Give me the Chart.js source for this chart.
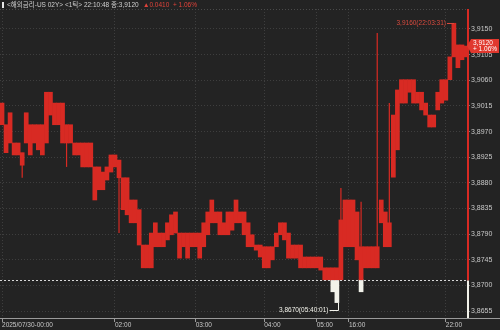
<!DOCTYPE html>
<html>
<head>
<meta charset="utf-8">
<script src="https://cdn.jsdelivr.net/npm/chart.js@4.4.1/dist/chart.umd.min.js"></script>
<style>
  html, body { margin: 0; padding: 0; background: #232323; }
  canvas { display: block; }
</style>
</head>
<body>
<canvas id="myChart" width="500" height="330"></canvas>
<script>
// tick data, one column per few ticks: high / low of the body
const prevClose = 3.8710;
const lastPrice = 3.9120;
const changeText = '▲0.0410  + 1.06%';
const highs = [
  3.9020, 3.8982, 3.9003, 3.8950, 3.8950, 3.8933, 3.9003, 3.8982, 3.8982, 3.8982,
  3.8982, 3.9039, 3.9039, 3.9020, 3.9020, 3.9020, 3.8982, 3.8982, 3.8950, 3.8950,
  3.8950, 3.8950, 3.8950, 3.8908, 3.8908, 3.8899, 3.8908, 3.8929, 3.8929, 3.8920,
  3.8889, 3.8889, 3.8850, 3.8850, 3.8833, 3.8771, 3.8771, 3.8792, 3.8810, 3.8792,
  3.8792, 3.8810, 3.8824, 3.8829, 3.8792, 3.8792, 3.8792, 3.8792, 3.8792, 3.8792,
  3.8810, 3.8829, 3.8850, 3.8829, 3.8829, 3.8810, 3.8829, 3.8829, 3.8850, 3.8829,
  3.8829, 3.8810, 3.8789, 3.8771, 3.8771, 3.8768, 3.8768, 3.8768, 3.8792, 3.8810,
  3.8810, 3.8792, 3.8771, 3.8771, 3.8771, 3.8750, 3.8750, 3.8750, 3.8750, 3.8750,
  3.8731, 3.8731, 3.8731, 3.8731, 3.8815, 3.8850, 3.8850, 3.8850, 3.8829, 3.8768,
  3.8768, 3.8768, 3.8768, 3.8768, 3.8850, 3.8829, 3.8810, 3.8999, 3.9043, 3.9061,
  3.9061, 3.9061, 3.9061, 3.9039, 3.9039, 3.9020, 3.8999, 3.8999, 3.9039, 3.9061,
  3.9061, 3.9101, 3.9160, 3.9122, 3.9122, 3.9120
];
const lows = [
  3.8982, 3.8933, 3.8950, 3.8929, 3.8929, 3.8911, 3.8950, 3.8929, 3.8950, 3.8938,
  3.8929, 3.8950, 3.8999, 3.8982, 3.8982, 3.8950, 3.8950, 3.8950, 3.8929, 3.8929,
  3.8908, 3.8908, 3.8908, 3.8850, 3.8868, 3.8868, 3.8885, 3.8899, 3.8908, 3.8889,
  3.8833, 3.8824, 3.8810, 3.8810, 3.8771, 3.8731, 3.8731, 3.8731, 3.8768, 3.8768,
  3.8768, 3.8780, 3.8789, 3.8792, 3.8748, 3.8768, 3.8748, 3.8768, 3.8768, 3.8748,
  3.8768, 3.8789, 3.8810, 3.8810, 3.8789, 3.8789, 3.8789, 3.8797, 3.8810, 3.8810,
  3.8789, 3.8768, 3.8768, 3.8762, 3.8750, 3.8731, 3.8731, 3.8745, 3.8768, 3.8789,
  3.8780, 3.8748, 3.8748, 3.8748, 3.8731, 3.8731, 3.8731, 3.8731, 3.8731, 3.8727,
  3.8710, 3.8710, 3.8689, 3.8670, 3.8710, 3.8768, 3.8768, 3.8768, 3.8745, 3.8689,
  3.8731, 3.8731, 3.8731, 3.8731, 3.8810, 3.8768, 3.8768, 3.8890, 3.8938, 3.9020,
  3.9020, 3.9039, 3.9020, 3.9020, 3.9008, 3.8999, 3.8978, 3.8978, 3.9008, 3.9020,
  3.9025, 3.9061, 3.9101, 3.9082, 3.9096, 3.9101
];
// thin single-tick spikes
const wickIdx = [5, 16, 29, 84, 89, 93, 96];
const wickLow = [3.8889, 3.8908, 3.8792, 3.8810, 3.8768, 3.8731, 3.8768];
const wickHigh = [3.8933, 3.8982, 3.8920, 3.8871, 3.8847, 3.9143, 3.9020];

const yTicks = [3.8655, 3.8700, 3.8745, 3.8790, 3.8835, 3.8880, 3.8925, 3.8970, 3.9015, 3.9060, 3.9105, 3.9150];
const tickIdx = [0, 28, 48, 65, 78, 86, 110];
const tickText = ['2025/07/30-00:00', '02:00', '03:00', '04:00', '05:00', '16:00', '22:00'];
const maxIdx = 112, maxTime = '22:03:31';
const minIdx = 83, minTime = '05:40:01';

const RED = '#d82a23';
const WHITE = '#f2f2ea';
const fmt = (v) => v.toFixed(4).replace('.', ',');
const FONT = "6.5px 'Liberation Sans', 'Noto Sans CJK KR', sans-serif";

const redBars = highs.map((h, i) => h > prevClose ? [Math.max(lows[i], prevClose), h] : null);
const whiteBars = lows.map((l, i) => l < prevClose ? [l, Math.min(highs[i], prevClose)] : null);
const wickBars = highs.map((_, i) => {
  const k = wickIdx.indexOf(i);
  return k < 0 ? null : [wickLow[k], wickHigh[k]];
});

const decor = {
  id: 'decor',
  afterDatasetsDraw(chart) {
    const ctx = chart.ctx;
    const a = chart.chartArea;
    const x = chart.scales.x, y = chart.scales.y;
    const baseY = Math.round(y.getPixelForValue(prevClose)) + 0.5;
    ctx.save();

    // top dotted line
    ctx.strokeStyle = '#4a4a4a';
    ctx.lineWidth = 1;
    ctx.setLineDash([1, 2]);
    ctx.beginPath(); ctx.moveTo(a.left, a.top + 0.5); ctx.lineTo(a.right, a.top + 0.5); ctx.stroke();

    // previous close line
    ctx.strokeStyle = '#d8d8d8';
    ctx.setLineDash([2, 2]);
    ctx.beginPath(); ctx.moveTo(a.left, baseY); ctx.lineTo(a.right, baseY); ctx.stroke();
    ctx.setLineDash([]);

    // bottom axis line
    ctx.strokeStyle = '#9a9a9a';
    ctx.beginPath(); ctx.moveTo(a.left, a.bottom + 0.5); ctx.lineTo(a.right + 32, a.bottom + 0.5); ctx.stroke();

    // right axis line, red above prev close, white below
    ctx.lineWidth = 2;
    ctx.strokeStyle = RED;
    ctx.beginPath(); ctx.moveTo(a.right, a.top); ctx.lineTo(a.right, baseY); ctx.stroke();
    ctx.strokeStyle = WHITE;
    ctx.beginPath(); ctx.moveTo(a.right, baseY); ctx.lineTo(a.right, a.bottom); ctx.stroke();
    ctx.lineWidth = 1;

    ctx.font = FONT;
    ctx.textBaseline = 'middle';

    // max label
    const mx = Math.round(x.getPixelForValue(maxIdx));
    const my = Math.round(y.getPixelForValue(highs[maxIdx])) + 0.5;
    ctx.strokeStyle = '#d84a3e';
    ctx.beginPath(); ctx.moveTo(mx - 7, my); ctx.lineTo(mx, my); ctx.stroke();
    ctx.fillStyle = '#d84a3e';
    ctx.textAlign = 'right';
    ctx.fillText(fmt(highs[maxIdx]) + '(' + maxTime + ')', mx - 8, my);

    // min label
    const nx = Math.round(x.getPixelForValue(minIdx)) + 1.5;
    const ny = Math.round(y.getPixelForValue(lows[minIdx]));
    ctx.strokeStyle = WHITE;
    ctx.beginPath(); ctx.moveTo(nx - 9, ny + 7.5); ctx.lineTo(nx, ny + 7.5); ctx.lineTo(nx, ny); ctx.stroke();
    ctx.fillStyle = WHITE;
    ctx.fillText(fmt(lows[minIdx]) + '(' + minTime + ')', nx - 10, ny + 7.5);

    // current price box
    const py = y.getPixelForValue(lastPrice);
    ctx.fillStyle = '#e0382e';
    ctx.beginPath();
    ctx.moveTo(a.right - 1, py);
    ctx.lineTo(a.right + 3, py - 7);
    ctx.lineTo(a.right + 31, py - 7);
    ctx.lineTo(a.right + 31, py + 7);
    ctx.lineTo(a.right + 3, py + 7);
    ctx.closePath();
    ctx.fill();
    ctx.fillStyle = '#ffffff';
    ctx.textAlign = 'left';
    ctx.fillText(fmt(lastPrice), a.right + 5, py - 3);
    ctx.fillText('+ 1.06%', a.right + 5, py + 3.5);

    // title
    ctx.fillStyle = '#e8e8e8';
    ctx.fillRect(2, 2, 2, 6);
    ctx.fillStyle = '#cfcfcf';
    ctx.fillText('<해외금리-US 02Y> <1틱> 22:10:48 종:' + fmt(lastPrice), 7, 5);
    ctx.fillStyle = '#e0433a';
    ctx.fillText(changeText, 143, 5);
    ctx.restore();
  }
};

const ctx = document.getElementById('myChart').getContext('2d');
const myChart = new Chart(ctx, {
  type: 'bar',
  data: {
    labels: highs.map((_, i) => i),
    datasets: [
      { data: redBars, backgroundColor: RED, borderWidth: 0 },
      { data: whiteBars, backgroundColor: WHITE, borderWidth: 0 },
      { data: wickBars, backgroundColor: RED, borderWidth: 0, barPercentage: 0.3 }
    ]
  },
  options: {
    responsive: false,
    animation: false,
    events: [],
    layout: { padding: { top: 9, left: 0, right: 0, bottom: 0 } },
    plugins: { legend: { display: false }, tooltip: { enabled: false }, title: { display: false } },
    datasets: { bar: { barPercentage: 1, categoryPercentage: 1, grouped: false } },
    scales: {
      x: {
        type: 'category',
        offset: true,
        afterBuildTicks: (scale) => {
          scale.ticks = scale.ticks.filter(t => tickIdx.includes(t.value));
        },
        afterFit: (scale) => { scale.height = 12; },
        grid: { offset: false, color: '#3e3e3e', tickColor: '#9a9a9a', tickLength: 4, drawTicks: true },
        border: { display: false, dash: [1, 2] },
        ticks: {
          autoSkip: false, maxRotation: 0, align: 'start', padding: -1,
          color: '#c8c8c8', font: { size: 6.5, family: "'Liberation Sans', sans-serif" },
          callback: (val) => tickText[tickIdx.indexOf(val)]
        }
      },
      y: {
        position: 'right',
        min: 3.8643,
        max: 3.9185,
        afterBuildTicks: (scale) => { scale.ticks = yTicks.map(v => ({ value: v })); },
        afterFit: (scale) => { scale.width = 32; },
        grid: { color: '#3e3e3e', tickColor: '#777', tickLength: 2 },
        border: { display: false, dash: [1, 2] },
        ticks: {
          padding: 1, color: '#c8c8c8', font: { size: 7, family: "'Liberation Sans', sans-serif" },
          callback: (val) => fmt(val)
        }
      }
    }
  },
  plugins: [decor]
});
</script>
</body>
</html>
